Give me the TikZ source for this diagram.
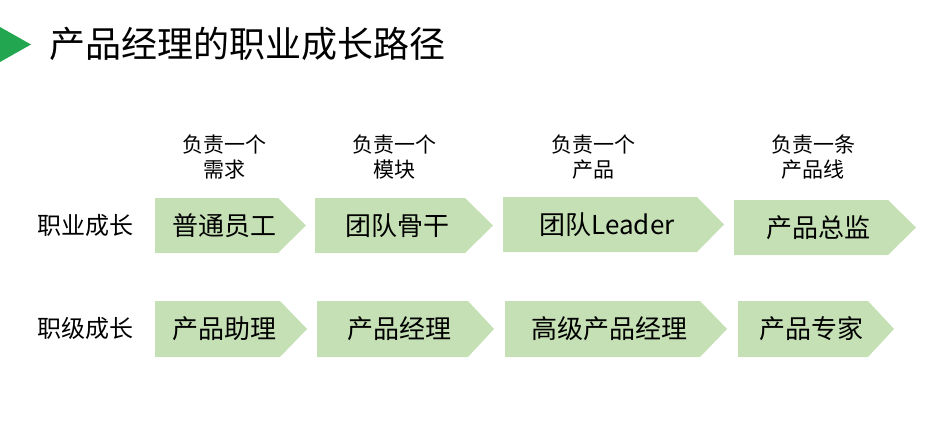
\documentclass[tikz,border=0pt]{standalone}
\usepackage{fontspec}
\setmainfont{Noto Sans CJK SC}
\definecolor{boxgreen}{HTML}{C5E0B4}
\definecolor{triGreen}{HTML}{22A64F}
\begin{document}
\begin{tikzpicture}[x=1pt,y=-1pt,
  boxtext/.style={font=\fontsize{26}{30}\selectfont, inner sep=0pt, anchor=center},
  note/.style={font=\fontsize{21}{26}\selectfont, inner sep=0pt, anchor=center, align=center},
  rowlabel/.style={font=\fontsize{24}{28}\selectfont, inner sep=0pt, anchor=west},
  title/.style={font=\fontsize{36}{42}\selectfont, inner sep=0pt, anchor=west}]
\useasboundingbox (0,0) rectangle (952,422);
\newcommand{\chev}[5]{\fill[boxgreen] (#1,#4) -- (#2,#4) -- (#3,{(#4+#5)/2}) -- (#2,#5) -- (#1,#5) -- cycle;}
% title
\fill[triGreen] (0,27) -- (31,44.5) -- (0,62) -- cycle;
\node[title] (ttl) at (49,44) {产品经理的职业成长路径};
% row labels
\node[rowlabel] (l1) at (37,225) {职业成长};
\node[rowlabel] (l2) at (37,328) {职级成长};
% row 1 boxes
\chev{155}{278}{306}{198}{253}
\chev{315}{465}{493}{198}{253}
\chev{503}{697}{724}{197}{252}
\chev{734}{888}{916}{200}{255}
\node[boxtext] (a1) at (224,226) {普通员工};
\node[boxtext] (a2) at (397,226) {团队骨干};
\node[boxtext] (a3) at (607,225) {团队Leader};
\node[boxtext] (a4) at (818,228) {产品总监};
% row 2 boxes
\chev{155}{280}{307}{301}{357}
\chev{317}{468}{494}{301}{357}
\chev{505}{700}{727}{301}{357}
\chev{738}{868}{894}{301}{357}
\node[boxtext] (b1) at (224,329) {产品助理};
\node[boxtext] (b2) at (399,329) {产品经理};
\node[boxtext] (b3) at (609,329) {高级产品经理};
\node[boxtext] (b4) at (811,329) {产品专家};
% notes
\node[note] (n1a) at (224,145) {负责一个};
\node[note] (n1b) at (224,170) {需求};
\node[note] (n2a) at (394,145) {负责一个};
\node[note] (n2b) at (394,170) {模块};
\node[note] (n3a) at (593,145) {负责一个};
\node[note] (n3b) at (593,170) {产品};
\node[note] (n4a) at (813,145) {负责一条};
\node[note] (n4b) at (813,170) {产品线};
\end{tikzpicture}
\end{document}
